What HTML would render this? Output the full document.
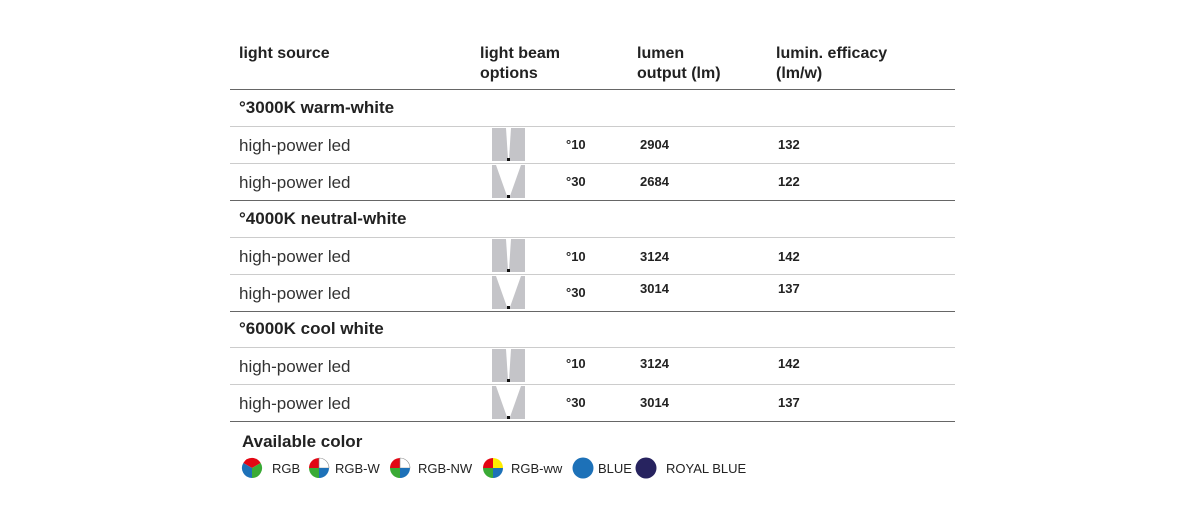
<!DOCTYPE html><html><head><meta charset="utf-8"><style>
body{margin:0;width:1187px;height:527px;background:#fff;position:relative;font-family:"Liberation Sans",sans-serif;color:#222;overflow:hidden}
div{position:absolute;white-space:nowrap}
.h{font-weight:bold;font-size:16px;line-height:20px}
.s{font-weight:bold;font-size:17px;left:239px}
.r{font-size:17px;left:239px;color:#333}
.v{font-weight:bold;font-size:13px}
.ln{left:230px;width:725px;height:1px;background:#ccc}
.dk{background:#666}
.l{font-size:13px;top:461px}
</style></head><body>
<div class="h" style="left:239px;top:44px">light source</div>
<div class="h" style="left:480px;top:44px">light beam<br>options</div>
<div class="h" style="left:637px;top:44px">lumen<br>output (lm)</div>
<div class="h" style="left:776px;top:44px">lumin. efficacy<br>(lm/w)</div>
<div class="ln dk" style="top:89px"></div>
<div class="s" style="top:98px">°3000K warm-white</div>
<div class="ln" style="top:126px"></div>
<div class="ln" style="top:163px"></div>
<div class="ln dk" style="top:200px"></div>
<div class="s" style="top:209px">°4000K neutral-white</div>
<div class="ln" style="top:237px"></div>
<div class="ln" style="top:274px"></div>
<div class="ln dk" style="top:311px"></div>
<div class="s" style="top:319px">°6000K cool white</div>
<div class="ln" style="top:347px"></div>
<div class="ln" style="top:384px"></div>
<div class="ln dk" style="top:421px"></div>

<div class="r" style="top:136px">high-power led</div>
<div class="r" style="top:173px">high-power led</div>
<div class="r" style="top:247px">high-power led</div>
<div class="r" style="top:284px">high-power led</div>
<div class="r" style="top:357px">high-power led</div>
<div class="r" style="top:394px">high-power led</div>

<div class="v" style="left:566px;top:137px">°10</div><div class="v" style="left:640px;top:137px">2904</div><div class="v" style="left:778px;top:137px">132</div>
<div class="v" style="left:566px;top:174px">°30</div><div class="v" style="left:640px;top:174px">2684</div><div class="v" style="left:778px;top:174px">122</div>
<div class="v" style="left:566px;top:249px">°10</div><div class="v" style="left:640px;top:249px">3124</div><div class="v" style="left:778px;top:249px">142</div>
<div class="v" style="left:566px;top:285px">°30</div><div class="v" style="left:640px;top:281px">3014</div><div class="v" style="left:778px;top:281px">137</div>
<div class="v" style="left:566px;top:356px">°10</div><div class="v" style="left:640px;top:356px">3124</div><div class="v" style="left:778px;top:356px">142</div>
<div class="v" style="left:566px;top:395px">°30</div><div class="v" style="left:640px;top:395px">3014</div><div class="v" style="left:778px;top:395px">137</div>

<svg width="1187" height="527" style="position:absolute;left:0;top:0">
<defs>
<g id="n"><rect width="33" height="33" fill="#c4c4c8"/><polygon points="14,0 19,0 17,31 16,31" fill="#fff"/><rect x="15" y="30" width="3" height="3" fill="#111"/></g>
<g id="w"><rect width="33" height="33" fill="#c4c4c8"/><polygon points="4,0 29,0 18,31 15,31" fill="#fff"/><rect x="15" y="30" width="3" height="3" fill="#111"/></g>
</defs>
<use href="#n" x="492" y="128"/><use href="#w" x="492" y="165"/>
<use href="#n" x="492" y="239"/><use href="#w" x="492" y="276"/>
<use href="#n" x="492" y="349"/><use href="#w" x="492" y="386"/>
<g transform="translate(252,468)"><path d="M0,0 L-8.7,-5 A10,10 0 0 1 8.7,-5Z" fill="#e30613"/><path d="M0,0 L8.7,-5 A10,10 0 0 1 0,10Z" fill="#3aaa35"/><path d="M0,0 L0,10 A10,10 0 0 1 -8.7,-5Z" fill="#1d71b8"/></g>
<g transform="translate(319,468)"><path d="M0,0 L0,-10 A10,10 0 0 0 -10,0Z" fill="#e30613"/><path d="M0,0 L0,-10 A10,10 0 0 1 10,0Z" fill="#fff" stroke="#888" stroke-width=".6"/><path d="M0,0 L10,0 A10,10 0 0 1 0,10Z" fill="#1d71b8"/><path d="M0,0 L0,10 A10,10 0 0 1 -10,0Z" fill="#3aaa35"/></g>
<g transform="translate(400,468)"><path d="M0,0 L0,-10 A10,10 0 0 0 -10,0Z" fill="#e30613"/><path d="M0,0 L0,-10 A10,10 0 0 1 10,0Z" fill="#fff" stroke="#888" stroke-width=".6"/><path d="M0,0 L10,0 A10,10 0 0 1 0,10Z" fill="#1d71b8"/><path d="M0,0 L0,10 A10,10 0 0 1 -10,0Z" fill="#3aaa35"/></g>
<g transform="translate(493,468)"><path d="M0,0 L0,-10 A10,10 0 0 0 -10,0Z" fill="#e30613"/><path d="M0,0 L0,-10 A10,10 0 0 1 10,0Z" fill="#ffed00"/><path d="M0,0 L10,0 A10,10 0 0 1 0,10Z" fill="#1d71b8"/><path d="M0,0 L0,10 A10,10 0 0 1 -10,0Z" fill="#3aaa35"/></g>
<circle cx="583" cy="468" r="10.5" fill="#1d71b8"/>
<circle cx="646" cy="468" r="10.5" fill="#27235f"/>
</svg>
<div style="left:242px;top:432px;font-weight:bold;font-size:17px">Available color</div>
<div class="l" style="left:272px">RGB</div>
<div class="l" style="left:335px">RGB-W</div>
<div class="l" style="left:418px">RGB-NW</div>
<div class="l" style="left:511px">RGB-ww</div>
<div class="l" style="left:598px">BLUE</div>
<div class="l" style="left:666px">ROYAL BLUE</div>
</body></html>
